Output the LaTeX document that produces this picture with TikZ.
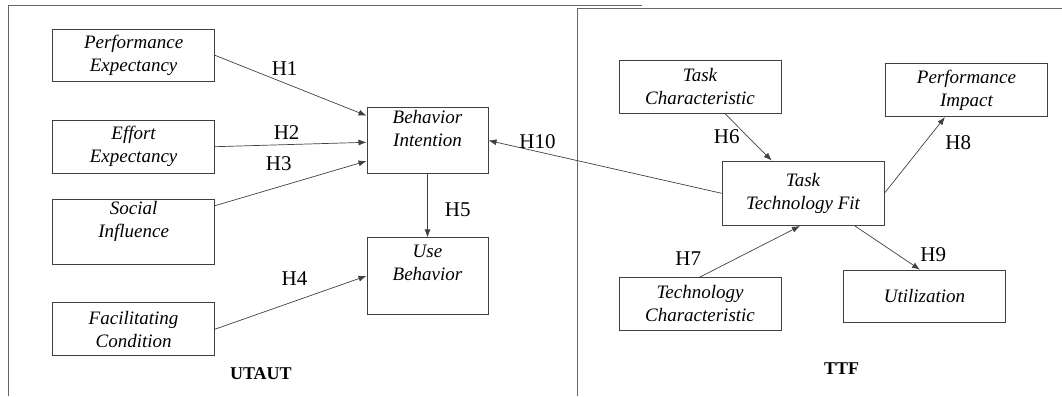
\documentclass[tikz,border=0pt]{standalone}
\usepackage{fontspec}
\setmainfont{Liberation Serif}
\usetikzlibrary{arrows.meta}

\begin{document}
\begin{tikzpicture}[x=1pt,y=-1pt,
    construct/.style={draw=black!75,line width=0.7pt,minimum width=162pt,align=center,inner sep=0pt,
      font=\fontsize{19}{23}\selectfont\itshape},
    hyp/.style={font=\fontsize{21}{21}\selectfont},
    model/.style={font=\fontsize{18}{18}\selectfont\bfseries},
    link/.style={draw=black!75,line width=0.7pt,-{Latex[length=8pt,width=6pt]}},
    panel/.style={draw=black!60,line width=0.8pt}]
  \useasboundingbox (0,0) rectangle (1062,396);

  % the two model panels
  \draw[panel] (8.7,396) -- (8.7,5.7) -- (641.7,5.7);
  \draw[panel] (577.5,396) -- (577.5,8.3) -- (1062,8.3);

  % UTAUT side
  \node[construct,minimum height=52.7pt] (pe) at (133.6,55.3) {Performance\\Expectancy};
  \node[construct,minimum height=53.3pt] (ee) at (133.6,146.7) {Effort\\Expectancy};
  \node[construct,minimum height=64.7pt] (si) at (133.6,231.7) {Social\\Influence\\[-6pt]\strut};
  \node[construct,minimum height=53pt]   (fc) at (133.6,329.2) {Facilitating\\Condition};
  \node[construct,minimum width=121.3pt,minimum height=65.6pt] (bi) at (427.5,140.5) {Behavior\\Intention\\[-6pt]\strut};
  \node[construct,minimum width=121.3pt,minimum height=76.3pt] (ub) at (427.5,275.9) {Use\\Behavior\\[-4pt]\strut};

  % TTF side
  \node[construct,minimum height=53.3pt] (tc)   at (700,86.7)    {Task\\Characteristic};
  \node[construct,minimum height=53.4pt] (pi)   at (966.5,90)    {Performance\\Impact};
  \node[construct,minimum height=64.7pt] (ttf)  at (803,193.3)   {Task\\Technology Fit};
  \node[construct,minimum height=52.7pt] (tech) at (700,303.7)   {Technology\\Characteristic};
  \node[construct,minimum height=52.3pt] (util) at (924.5,296.2) {Utilization};

  % hypotheses
  \draw[link] (pe.east) -- ([yshift=-8.3pt]bi.north west);
  \draw[link] (ee.east) -- ([yshift=-1.8pt]bi.west);
  \draw[link] ([yshift=-6.7pt]si.north east) -- ([yshift=12.6pt]bi.south west);
  \draw[link] (fc.east) -- (ub.west);
  \draw[link] (bi.south) -- (ub.north);
  \draw[link] (ttf.west) -- (bi.east);
  \draw[link] ([xshift=25pt]tc.south) -- ([xshift=-31.3pt]ttf.north);
  \draw[link] (tech.north) -- ([xshift=-3pt]ttf.south);
  \draw[link] (ttf.east) -- ([xshift=-21.5pt]pi.south);
  \draw[link] ([xshift=52pt]ttf.south) -- ([xshift=-4.5pt]util.north);

  \node[hyp] (h1)  at (284.6,68.3)  {H1};
  \node[hyp] (h2)  at (286.6,132.7) {H2};
  \node[hyp] (h3)  at (278.7,163.3) {H3};
  \node[hyp] (h4)  at (294.5,278.3) {H4};
  \node[hyp] (h5)  at (457.7,210)   {H5};
  \node[hyp] (h6)  at (726.7,136.7) {H6};
  \node[hyp] (h7)  at (688.3,258.3) {H7};
  \node[hyp] (h8)  at (958.3,142.7) {H8};
  \node[hyp] (h9)  at (933.3,255)   {H9};
  \node[hyp] (h10) at (537.5,141.7) {H10};

  \node[model] (utaut) at (260.9,374)   {UTAUT};
  \node[model] (ttfm)  at (841.7,368.3) {TTF};
\end{tikzpicture}
\end{document}
